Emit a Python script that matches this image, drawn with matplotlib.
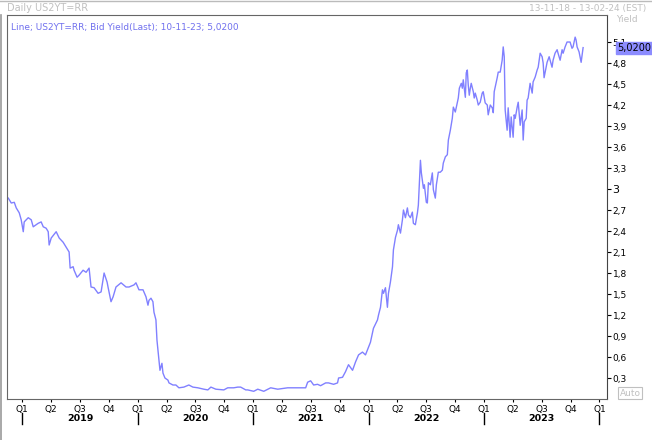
import matplotlib
matplotlib.use('Agg')
import matplotlib.pyplot as plt
import matplotlib.transforms as mtransforms
from matplotlib.lines import Line2D

# dates as decimal years
t = [2018.879, 2018.905, 2018.931, 2018.948, 2018.974, 2018.991, 2019.009, 2019.017, 2019.052, 2019.078,
     2019.095, 2019.138, 2019.164, 2019.182, 2019.207, 2019.225, 2019.233, 2019.251, 2019.294, 2019.320,
     2019.354, 2019.380, 2019.406, 2019.415, 2019.441, 2019.449, 2019.475, 2019.493, 2019.527, 2019.553,
     2019.579, 2019.596, 2019.622, 2019.657, 2019.683, 2019.709, 2019.735, 2019.743, 2019.769, 2019.787,
     2019.812, 2019.856, 2019.899, 2019.925, 2019.968, 2019.985, 2020.011, 2020.046, 2020.072, 2020.089,
     2020.098, 2020.115, 2020.132, 2020.141, 2020.158, 2020.167, 2020.184, 2020.193, 2020.210, 2020.219,
     2020.236, 2020.262, 2020.271, 2020.305, 2020.331, 2020.357, 2020.400, 2020.443, 2020.478, 2020.521,
     2020.573, 2020.608, 2020.634, 2020.677, 2020.746, 2020.780, 2020.832, 2020.867, 2020.892, 2020.936,
     2020.953, 2021.005, 2021.040, 2021.092, 2021.152, 2021.213, 2021.299, 2021.368, 2021.455, 2021.472,
     2021.498, 2021.524, 2021.558, 2021.584, 2021.628, 2021.653, 2021.697, 2021.731, 2021.740, 2021.774,
     2021.800, 2021.826, 2021.861, 2021.887, 2021.913, 2021.947, 2021.973, 2021.999, 2022.016, 2022.042,
     2022.077, 2022.086, 2022.103, 2022.120, 2022.129, 2022.146, 2022.163, 2022.172, 2022.189, 2022.207,
     2022.215, 2022.233, 2022.250, 2022.258, 2022.276, 2022.293, 2022.302, 2022.319, 2022.336, 2022.345,
     2022.362, 2022.379, 2022.388, 2022.405, 2022.423, 2022.431, 2022.449, 2022.457, 2022.475, 2022.483,
     2022.500, 2022.509, 2022.518, 2022.535, 2022.552, 2022.561, 2022.578, 2022.587, 2022.604, 2022.621,
     2022.639, 2022.647, 2022.665, 2022.682, 2022.691, 2022.708, 2022.725, 2022.734, 2022.751, 2022.768,
     2022.777, 2022.786, 2022.803, 2022.812, 2022.820, 2022.838, 2022.846, 2022.855, 2022.863, 2022.872,
     2022.881, 2022.889, 2022.907, 2022.915, 2022.924, 2022.941, 2022.950, 2022.967, 2022.984, 2022.993,
     2023.010, 2023.028, 2023.036, 2023.054, 2023.071, 2023.080, 2023.088, 2023.114, 2023.123, 2023.140,
     2023.157, 2023.166, 2023.175, 2023.183, 2023.200, 2023.209, 2023.226, 2023.235, 2023.252, 2023.261,
     2023.270, 2023.287, 2023.296, 2023.313, 2023.330, 2023.339, 2023.348, 2023.365, 2023.373, 2023.382,
     2023.399, 2023.417, 2023.425, 2023.443, 2023.460, 2023.469, 2023.486, 2023.503, 2023.512, 2023.520,
     2023.538, 2023.546, 2023.564, 2023.589, 2023.598, 2023.615, 2023.633, 2023.641, 2023.659, 2023.676,
     2023.685, 2023.702, 2023.719, 2023.745, 2023.762, 2023.771, 2023.789, 2023.797, 2023.806, 2023.823,
     2023.841, 2023.849, 2023.858]

yld = [2.87, 2.80, 2.81, 2.73, 2.66, 2.56, 2.39, 2.53, 2.59, 2.56,
       2.46, 2.51, 2.53, 2.46, 2.44, 2.39, 2.20, 2.30, 2.39, 2.30,
       2.24, 2.17, 2.10, 1.87, 1.89, 1.84, 1.74, 1.77, 1.84, 1.81,
       1.87, 1.60, 1.59, 1.51, 1.53, 1.80, 1.67, 1.60, 1.39, 1.46,
       1.60, 1.66, 1.60, 1.60, 1.63, 1.66, 1.56, 1.56, 1.46, 1.34,
       1.41, 1.44, 1.39, 1.24, 1.13, 0.84, 0.56, 0.41, 0.51, 0.37,
       0.30, 0.27, 0.23, 0.20, 0.20, 0.16, 0.17, 0.20, 0.17, 0.16,
       0.14, 0.13, 0.17, 0.14, 0.13, 0.16, 0.16, 0.17, 0.17, 0.13,
       0.13, 0.11, 0.14, 0.11, 0.16, 0.14, 0.16, 0.16, 0.16, 0.24,
       0.26, 0.20, 0.21, 0.19, 0.23, 0.23, 0.21, 0.23, 0.30, 0.31,
       0.39, 0.49, 0.41, 0.53, 0.63, 0.67, 0.63, 0.74, 0.81, 1.01,
       1.13, 1.20, 1.31, 1.56, 1.51, 1.59, 1.31, 1.51, 1.67, 1.89,
       2.13, 2.31, 2.41, 2.49, 2.37, 2.56, 2.70, 2.59, 2.73, 2.63,
       2.59, 2.67, 2.51, 2.49, 2.66, 2.77, 3.41, 3.23, 3.01, 3.06,
       2.81, 2.80, 3.09, 3.06, 3.23, 2.99, 2.87, 3.06, 3.24, 3.24,
       3.27, 3.37, 3.46, 3.49, 3.70, 3.84, 4.01, 4.17, 4.10, 4.23,
       4.30, 4.44, 4.51, 4.44, 4.56, 4.31, 4.66, 4.70, 4.49, 4.34,
       4.44, 4.51, 4.39, 4.30, 4.37, 4.27, 4.20, 4.24, 4.37, 4.39,
       4.23, 4.20, 4.06, 4.20, 4.16, 4.09, 4.39, 4.59, 4.67, 4.67,
       4.84, 5.03, 4.89, 4.13, 3.84, 4.16, 3.74, 4.03, 3.74, 4.06,
       4.01, 4.17, 4.24, 3.91, 4.13, 3.70, 3.96, 4.01, 4.27, 4.30,
       4.51, 4.37, 4.53, 4.60, 4.70, 4.74, 4.94, 4.89, 4.80, 4.59,
       4.74, 4.81, 4.89, 4.74, 4.84, 4.94, 4.99, 4.94, 4.84, 4.99,
       4.94, 5.03, 5.10, 5.10, 5.01, 5.03, 5.17, 5.13, 5.03, 4.96,
       4.81, 4.91, 5.02]

years = [2019, 2020, 2021, 2022, 2023]
quarter_labels = ['Q1', 'Q2', 'Q3', 'Q4']
ytick_vals = [0.3, 0.6, 0.9, 1.2, 1.5, 1.8, 2.1, 2.4, 2.7, 3.0, 3.3, 3.6, 3.9, 4.2, 4.5, 4.8, 5.1]
last_value = 5.02

line_color = '#8080ff'
frame_color = '#666666'
light = '#c0c0c0'

fig = plt.figure(figsize=(6.52, 4.4), dpi=100)
ax = fig.add_axes([7 / 652, 1 - 399 / 440, 600 / 652, 384 / 440])

ax.plot(t, yld, color=line_color, lw=1.0)

ax.set_xlim(2018.868, 2024.065)
ax.set_ylim(0, 5.486)

for s in ['left', 'top', 'bottom']:
    ax.spines[s].set_color(frame_color)
ax.spines['right'].set_color('#444444')

# y axis on the right
ax.yaxis.tick_right()
ax.set_yticks(ytick_vals)
ylabs = []
for v in ytick_vals:
    if abs(v - 3.0) < 1e-9:
        ylabs.append('3')
    else:
        ylabs.append(('%.1f' % v).replace('.', ','))
ax.set_yticklabels(ylabs)
ax.tick_params(axis='y', direction='out', length=3, width=0.8, pad=1,
               labelsize=6.5, colors='black')
for lab in ax.get_yticklabels():
    if lab.get_text() == '3':
        lab.set_fontsize(8)

# quarters on x axis
qpos = []
qlab = []
for y in years + [2024]:
    for i, q in enumerate(quarter_labels):
        p = y + i * 0.25
        if p <= 2024.0:
            qpos.append(p)
            qlab.append(q)
ax.set_xticks(qpos)
ax.set_xticklabels(qlab)
ax.tick_params(axis='x', direction='out', length=2, width=0.8, pad=2,
               labelsize=6.5, colors='black')

trans = mtransforms.blended_transform_factory(ax.transData, ax.transAxes)
for y in years:
    ax.text(y + 0.5, -0.05, str(y), transform=trans, ha='center', va='center',
            fontsize=6.8, fontweight='bold')
for y in years + [2024]:
    ax.plot([y, y], [-0.037, -0.066], transform=trans, color='black', lw=1,
            clip_on=False)

# header texts
fig.text(7 / 652, 1 - 8 / 440, 'Daily US2YT=RR', color=light, fontsize=7, va='center', ha='left')
fig.text(646 / 652, 1 - 8 / 440, '13-11-18 - 13-02-24 (EST)', color=light, fontsize=6.5,
         va='center', ha='right')
fig.text(638 / 652, 1 - 20 / 440, 'Yield', color=light, fontsize=6.5, va='center', ha='right')
ax.text(0.007, 0.978, 'Line; US2YT=RR; Bid Yield(Last); 10-11-23; 5,0200', transform=ax.transAxes,
        color='#7070ee', fontsize=6.5, va='top', ha='left')

# last value marker on the right axis
ax.annotate(('%.4f' % last_value).replace('.', ','), xy=(1.0, last_value),
            xycoords=('axes fraction', 'data'), xytext=(7, 0), textcoords='offset points',
            ha='left', va='center', fontsize=7, color='black', annotation_clip=False,
            bbox=dict(boxstyle='square,pad=0.1', fc='#8c8cff', ec='#8c8cff'))

# "Auto" button
fig.text(630 / 652, 1 - 393 / 440, 'Auto', color=light, fontsize=6.5, va='center', ha='center',
         bbox=dict(boxstyle='square,pad=0.15', fc='white', ec=light, lw=0.8))

# outer frame lines
fig.add_artist(Line2D([1 / 652, 1 / 652], [0, 1 - 15 / 440], color='#999999', lw=1.2))
fig.add_artist(Line2D([0, 1], [1 - 1 / 440, 1 - 1 / 440], color='#bbbbbb', lw=1))

fig.savefig('out.png', dpi=100)
